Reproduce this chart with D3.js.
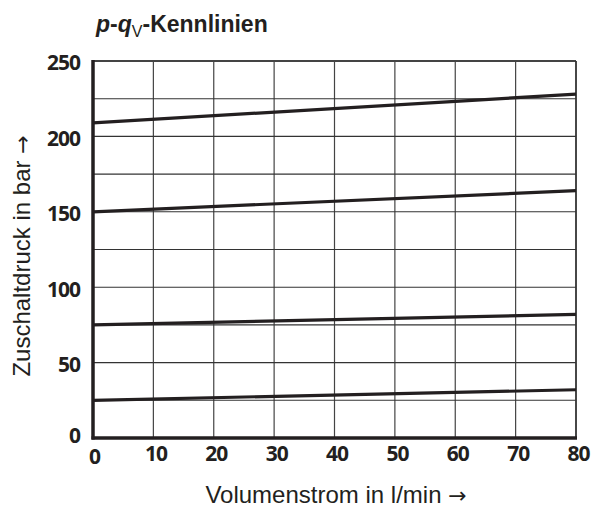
<!DOCTYPE html>
<html>
<head>
<meta charset="utf-8">
<script src="https://cdn.jsdelivr.net/npm/d3@7"></script>
<style>
  body { margin: 0; background: #fff; }
  svg { display: block; }
</style>
</head>
<body>
<div id="chart"></div>
<script>
const W = 594, H = 508
const MARGIN = {LEFT: 93, RIGHT: 18, TOP: 61, BOTTOM: 70}

// data
const flow = [0, 80]
const curve25 = [25, 32]
const curve75 = [75, 82]
const curve150 = [150, 164]
const curve210 = [209, 228]
const curves = [curve25, curve75, curve150, curve210]
const xTicks = [0, 10, 20, 30, 40, 50, 60, 70, 80]
const yTicks = [0, 50, 100, 150, 200, 250]
const yGrid = [25, 50, 75, 100, 125, 150, 175, 200, 225]

const svg = d3.select("#chart").append("svg")
    .attr("width", W)
    .attr("height", H)

const x = d3.scaleLinear().domain([0, 80]).range([MARGIN.LEFT, W - MARGIN.RIGHT])
const y = d3.scaleLinear().domain([0, 250]).range([H - MARGIN.BOTTOM, MARGIN.TOP])

const ink = "#231f20"
const labelFont = "'Liberation Sans', Arial, sans-serif"

// grid
svg.append("g").selectAll("line").data(xTicks.slice(1, -1)).enter().append("line")
    .attr("x1", d => x(d)).attr("x2", d => x(d))
    .attr("y1", y(0)).attr("y2", y(250))
    .attr("stroke", "#444").attr("stroke-width", 1.2)
svg.append("g").selectAll("line").data(yGrid).enter().append("line")
    .attr("x1", x(0)).attr("x2", x(80))
    .attr("y1", d => y(d)).attr("y2", d => y(d))
    .attr("stroke", "#333").attr("stroke-width", 1.1)

// frame top / right
svg.append("line").attr("x1", x(0)).attr("x2", x(80)).attr("y1", y(250)).attr("y2", y(250))
    .attr("stroke", "#444").attr("stroke-width", 1.8)
svg.append("line").attr("x1", x(80)).attr("x2", x(80)).attr("y1", y(0)).attr("y2", y(250))
    .attr("stroke", "#333").attr("stroke-width", 1.8)

// curves
const line = d3.line().x((d, i) => x(flow[i])).y(d => y(d))
svg.append("g").selectAll("path").data(curves).enter().append("path")
    .attr("d", d => line(d))
    .attr("fill", "none")
    .attr("stroke", ink)
    .attr("stroke-width", 3.2)

// axes
const xAxis = d3.axisBottom(x).tickValues(xTicks).tickSize(0).tickPadding(8)
const gx = svg.append("g").attr("transform", `translate(0,${y(0)})`).call(xAxis)
const yAxis = d3.axisLeft(y).tickValues(yTicks).tickSize(0).tickPadding(13)
const gy = svg.append("g").attr("transform", `translate(${x(0)},0)`).call(yAxis)

gx.select(".domain").attr("stroke", ink).attr("stroke-width", 3.5)
    .attr("d", `M${x(0) - 1.5},0H${x(80) + 1}`)
gy.select(".domain").attr("stroke", ink).attr("stroke-width", 3.5)
    .attr("d", `M0,${y(0) + 1.5}V${y(250) - 1}`)

svg.selectAll(".tick text")
    .attr("fill", ink)
    .style("font-family", "'Open Sans', sans-serif")
    .style("font-weight", "bold")
    .style("font-size", "21px")
    .style("letter-spacing", "-1px")
gx.selectAll(".tick text").attr("dx", "0.1em").attr("dy", "0.7em")
gx.selectAll(".tick").filter(d => d === 0).select("text").attr("dx", "0.05em").attr("dy", "0.86em")
gy.selectAll(".tick text").attr("dy", "0.42em")
gy.selectAll(".tick").filter(d => d === 0).select("text").attr("dy", "0.2em")

// title
const title = svg.append("text")
    .attr("x", 96).attr("y", 32)
    .attr("fill", ink)
    .style("font-family", labelFont)
    .style("font-weight", "bold")
    .style("font-size", "23px")
title.append("tspan").style("font-style", "italic").text("p")
title.append("tspan").text("-")
title.append("tspan").style("font-style", "italic").text("q")
title.append("tspan").attr("dy", 5).style("font-size", "16px").style("font-weight", "normal").text("V")
title.append("tspan").attr("dy", -5).text("-Kennlinien")

// axis labels
const xLabel = svg.append("text")
    .attr("x", 336).attr("y", 503)
    .attr("text-anchor", "middle")
    .attr("fill", ink)
    .style("font-family", labelFont)
    .style("font-size", "24px")
xLabel.append("tspan").text("Volumenstrom in l/min ")
xLabel.append("tspan").style("font-family", "'DejaVu Sans', sans-serif").style("font-size", "22px").text("→")

const yLabel = svg.append("text")
    .attr("transform", "translate(30,256) rotate(-90)")
    .attr("text-anchor", "middle")
    .attr("fill", ink)
    .style("font-family", labelFont)
    .style("font-size", "24px")
yLabel.append("tspan").text("Zuschaltdruck in bar ")
yLabel.append("tspan").style("font-family", "'DejaVu Sans', sans-serif").style("font-size", "22px").text("→")
</script>
</body>
</html>
